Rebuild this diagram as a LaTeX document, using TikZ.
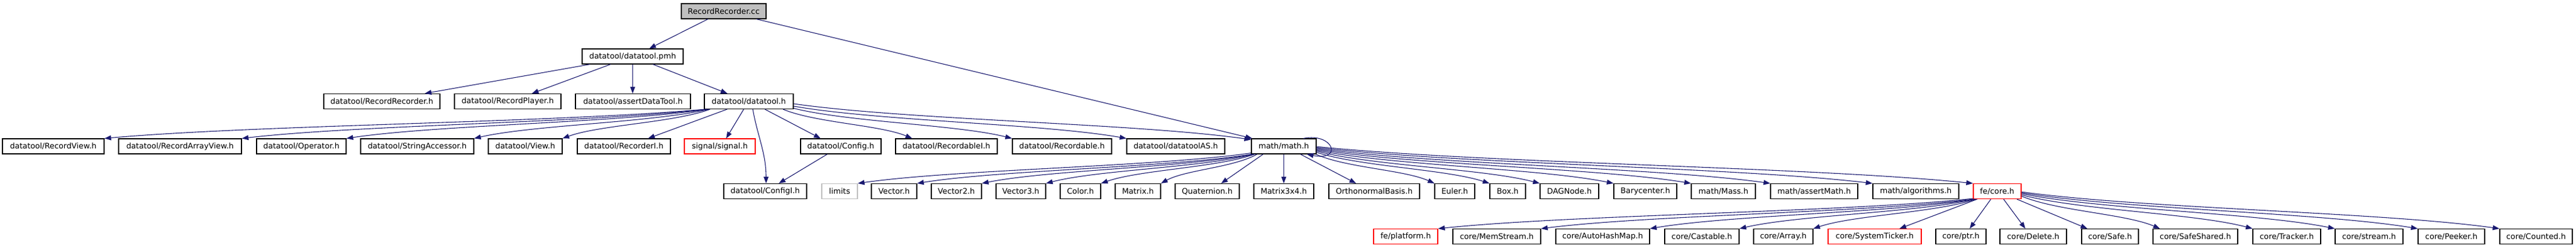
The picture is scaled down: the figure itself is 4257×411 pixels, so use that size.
\documentclass[tikz,border=0pt]{standalone}
\usepackage{fontspec}
\setmainfont{DejaVu Sans}
\usetikzlibrary{arrows.meta}
\definecolor{edgec}{RGB}{25,25,112}
\definecolor{greyfill}{RGB}{191,191,191}
\newcommand\fanedge[4]{\draw[edge] (#1) .. controls +({0.25*(#3)},{0.45*(#4)}) and +({-0.25*(#3)},{-0.45*(#4)}) .. (#2);}
\begin{document}
\begin{tikzpicture}[x=1pt,y=-1pt,
 box/.style={draw=black, line width=1.2pt, fill=white, minimum height=25pt, inner sep=0pt, font=\fontsize{12.8}{15}\selectfont},
 rootbox/.style={box, fill=greyfill},
 redbox/.style={box, draw=red},
 greybox/.style={box, draw=greyfill},
 edge/.style={draw=edgec, line width=1.1pt, -{Triangle[length=11pt,width=8pt]}}]
\useasboundingbox[fill=white] (0,0) rectangle (4257,411);
% row 1
\node[rootbox, minimum width=140pt] (rrcc) at (1196,18.5) {RecordRecorder.cc};
% row 2
\node[box, minimum width=167pt] (pmh) at (1045.5,93.5) {datatool/datatool.pmh};
% row 3
\node[box, minimum width=192pt] (rrh) at (631,168) {datatool/RecordRecorder.h};
\node[box, minimum width=176pt] (rph) at (839,168) {datatool/RecordPlayer.h};
\node[box, minimum width=190pt] (adt) at (1046,168) {datatool/assertDataTool.h};
\node[box, minimum width=147pt] (dth) at (1237.5,168) {datatool/datatool.h};
% row 4
\node[box, minimum width=168pt] (rvh) at (88,242.5) {datatool/RecordView.h};
\node[box, minimum width=203pt] (ravh) at (297.5,242.5) {datatool/RecordArrayView.h};
\node[box, minimum width=148pt] (oph) at (498,242.5) {datatool/Operator.h};
\node[box, minimum width=187pt] (sah) at (689.5,242.5) {datatool/StringAccessor.h};
\node[box, minimum width=122pt] (vh) at (868,242.5) {datatool/View.h};
\node[box, minimum width=154pt] (rih) at (1031,242.5) {datatool/RecorderI.h};
\node[redbox, minimum width=117pt] (sig) at (1189.5,242.5) {signal/signal.h};
\node[box, minimum width=133pt] (cfg) at (1389.5,242.5) {datatool/Config.h};
\node[box, minimum width=168pt] (rbi) at (1564,242.5) {datatool/RecordableI.h};
\node[box, minimum width=164pt] (rbl) at (1755,242.5) {datatool/Recordable.h};
\node[box, minimum width=162pt] (das) at (1943,242.5) {datatool/datatoolAS.h};
\node[box, minimum width=107pt] (math) at (2121.5,242.5) {math/math.h};
% row 5
\node[box, minimum width=137pt] (cfgi) at (1264.5,317) {datatool/ConfigI.h};
\node[greybox, minimum width=59pt] (lim) at (1387.5,317) {limits};
\node[box, minimum width=75pt] (vec) at (1477.5,317) {Vector.h};
\node[box, minimum width=83pt] (vec2) at (1580.5,317) {Vector2.h};
\node[box, minimum width=82pt] (vec3) at (1687,317) {Vector3.h};
\node[box, minimum width=67pt] (col) at (1785.5,317) {Color.h};
\node[box, minimum width=75pt] (mat) at (1880.5,317) {Matrix.h};
\node[box, minimum width=106pt] (quat) at (1995,317) {Quaternion.h};
\node[box, minimum width=99pt] (m34) at (2121.5,317) {Matrix3x4.h};
\node[box, minimum width=150pt] (onb) at (2271,317) {OrthonormalBasis.h};
\node[box, minimum width=66pt] (eul) at (2404,317) {Euler.h};
\node[box, minimum width=59pt] (boxh) at (2491.5,317) {Box.h};
\node[box, minimum width=97pt] (dag) at (2593.5,317) {DAGNode.h};
\node[box, minimum width=104pt] (bary) at (2719,317) {Barycenter.h};
\node[box, minimum width=106pt] (mass) at (2848,317) {math/Mass.h};
\node[box, minimum width=144pt] (amath) at (2998,317) {math/assertMath.h};
\node[box, minimum width=142pt] (alg) at (3166,317) {math/algorithms.h};
\node[redbox, minimum width=79pt] (core) at (3300.5,317) {fe/core.h};
% row 6
\node[redbox, minimum width=106pt] (plat) at (2323,392) {fe/platform.h};
\node[box, minimum width=145pt] (mems) at (2473.5,392) {core/MemStream.h};
\node[box, minimum width=155pt] (ahm) at (2648.5,392) {core/AutoHashMap.h};
\node[box, minimum width=123pt] (cast) at (2812.5,392) {core/Castable.h};
\node[box, minimum width=98pt] (arr) at (2947,392) {core/Array.h};
\node[redbox, minimum width=154pt] (tick) at (3098,392) {core/SystemTicker.h};
\node[box, minimum width=83pt] (ptr) at (3240.5,392) {core/ptr.h};
\node[box, minimum width=110pt] (del) at (3360,392) {core/Delete.h};
\node[box, minimum width=94pt] (safe) at (3487,392) {core/Safe.h};
\node[box, minimum width=140pt] (ssh) at (3628,392) {core/SafeShared.h};
\node[box, minimum width=112pt] (trk) at (3779,392) {core/Tracker.h};
\node[box, minimum width=112pt] (strm) at (3915,392) {core/stream.h};
\node[box, minimum width=110pt] (peek) at (4051,392) {core/Peeker.h};
\node[box, minimum width=120pt] (cnt) at (4191,392) {core/Counted.h};
% edges from RecordRecorder.cc
\draw[edge] ([xshift=-26pt]rrcc.south) -- ([xshift=27.5pt]pmh.north);
\draw[edge] ([xshift=54pt]rrcc.south) -- ([xshift=2pt]math.north west);
% edges from datatool.pmh
\draw[edge] ([xshift=-70.5pt]pmh.south) -- ([xshift=71pt]rrh.north);
\draw[edge] ([xshift=-36.5pt]pmh.south) -- ([xshift=40pt]rph.north);
\draw[edge] (pmh.south) -- (pmh.south |- adt.north);
\draw[edge] ([xshift=33.5pt]pmh.south) -- ([xshift=-35.5pt]dth.north);
% edges from datatool.h
\fanedge{[xshift=2pt]dth.south west}{rvh.north east}{-994}{49.5}
\fanedge{[xshift=4pt]dth.south west}{ravh.north east}{-769}{49.5}
\fanedge{[xshift=6pt]dth.south west}{oph.north east}{-598}{49.5}
\fanedge{[xshift=8pt]dth.south west}{sah.north east}{-389}{49.5}
\fanedge{[xshift=10pt]dth.south west}{vh.north east}{-245}{49.5}
\draw[edge] ([xshift=-36pt]dth.south) -- ([xshift=40pt]rih.north);
\draw[edge] ([xshift=-8.5pt]dth.south) -- ([xshift=10.5pt]sig.north);
\draw[edge] ([xshift=6.5pt]dth.south) .. controls +(8,45) and +(0,-50) .. ([xshift=1.5pt]cfgi.north);
\draw[edge] ([xshift=26.5pt]dth.south) -- ([xshift=-33.5pt]cfg.north);
\fanedge{[xshift=56.5pt]dth.south}{[xshift=28pt]rbi.north west}{214}{49.5}
\fanedge{[yshift=-11.5pt]dth.east}{rbl.north west}{362}{50.5}
\fanedge{[yshift=-8pt]dth.east}{das.north west}{551}{54}
\fanedge{[yshift=-4pt]dth.east}{[yshift=-2pt]math.north west}{757}{60}
% Config.h
\draw[edge] ([xshift=-22.5pt]cfg.south) -- ([xshift=22.5pt]cfgi.north);
% edges from math/math.h
\fanedge{[yshift=2pt]math.south west}{lim.north east}{-651}{51.5}
\fanedge{[xshift=1pt]math.south west}{vec.north east}{-554}{49.5}
\fanedge{[xshift=2pt]math.south west}{vec2.north east}{-448}{49.5}
\fanedge{[xshift=4pt]math.south west}{vec3.north east}{-344}{49.5}
\fanedge{[xshift=6pt]math.south west}{col.north east}{-255}{49.5}
\fanedge{[xshift=10pt]math.south west}{mat.north east}{-160}{49.5}
\draw[edge] ([xshift=20pt]math.south west) -- ([xshift=23pt]quat.north);
\draw[edge] (math.south) -- (m34.north);
\draw[edge] ([xshift=27.5pt]math.south) -- ([xshift=-30pt]onb.north);
\fanedge{[xshift=-1pt]math.south east}{eul.north west}{197}{49.5}
\fanedge{[yshift=-10pt]math.east}{boxh.north west}{287}{52}
\fanedge{[yshift=-8pt]math.east}{dag.north west}{370}{54}
\fanedge{[yshift=-6.5pt]math.east}{bary.north west}{492}{55.5}
\fanedge{[yshift=-5pt]math.east}{mass.north west}{620}{57}
\fanedge{[yshift=-3.5pt]math.east}{amath.north west}{751}{58.5}
\fanedge{[yshift=-2pt]math.east}{alg.north west}{920}{60}
\fanedge{[yshift=-0.5pt]math.east}{core.north west}{1086}{61.5}
\draw[edge] ([xshift=32.5pt]math.north) .. controls +(50,-10) and +(60,12) .. ([xshift=38pt]math.south);
% edges from fe/core.h
\fanedge{[yshift=1pt]core.south west}{plat.north east}{-885}{51}
\fanedge{[xshift=1pt]core.south west}{mems.north east}{-716}{50}
\fanedge{[xshift=2pt]core.south west}{ahm.north east}{-537}{50}
\fanedge{[xshift=3pt]core.south west}{cast.north east}{-390}{50}
\fanedge{[xshift=5pt]core.south west}{arr.north east}{-270}{50}
\draw[edge] ([xshift=7pt]core.south west) -- ([xshift=41pt]tick.north);
\draw[edge] ([xshift=-10.5pt]core.south) -- ([xshift=14.5pt]ptr.north);
\draw[edge] ([xshift=10.5pt]core.south) -- ([xshift=-13pt]del.north);
\draw[edge] ([xshift=32.5pt]core.south) -- ([xshift=10pt]safe.north west);
\fanedge{[yshift=-8pt]core.east}{[xshift=12pt]ssh.north west}{230}{54.5}
\fanedge{[yshift=-6pt]core.east}{trk.north west}{383}{56.5}
\fanedge{[yshift=-4pt]core.east}{strm.north west}{519}{58.5}
\fanedge{[yshift=-2.5pt]core.east}{peek.north west}{656}{60}
\fanedge{[yshift=-1pt]core.east}{cnt.north west}{791}{61.5}
\end{tikzpicture}
\end{document}
